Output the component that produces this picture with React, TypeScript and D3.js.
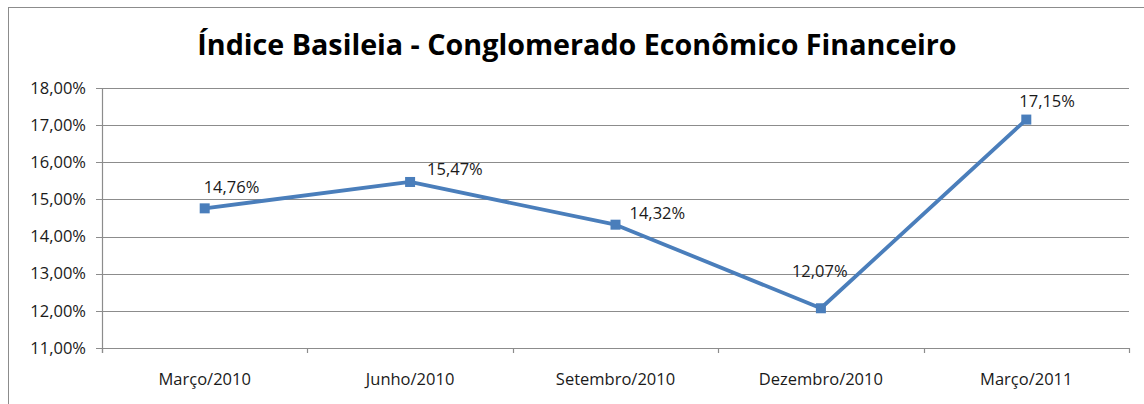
import React from "react";
import * as d3 from "d3";

const categories = ["Março/2010", "Junho/2010", "Setembro/2010", "Dezembro/2010", "Março/2011"];
const values = [14.76, 15.47, 14.32, 12.07, 17.15];
const yTicks = [11, 12, 13, 14, 15, 16, 17, 18];
const title = "Índice Basileia - Conglomerado Econômico Financeiro";

const fmt = (v: number) => v.toFixed(2).replace(".", ",") + "%";

export default function App() {
  const W = 1144, H = 404;
  const left = 102, right = 1129, top = 88, bottom = 348;
  const x = d3.scaleBand<string>().domain(categories).range([left, right]);
  const y = d3.scaleLinear().domain([11, 18]).range([bottom, top]);
  const line = d3.line<number>()
    .x((_, i) => (x(categories[i]) as number) + x.bandwidth() / 2)
    .y((d) => y(d));
  // label offsets relative to point (dx = left edge offset, dy = baseline offset)
  const labelOff = [
    [-1, -15], [17, -7], [14, -6], [-29, -31], [-7, -13],
  ];
  const font = "'Open Sans', sans-serif";
  const fs = 16.5;
  const gridColor = "#8c8c8c";
  const color = "#4a7ebb";
  const boundaries = [...categories.map((c) => x(c) as number), right];
  return (
    <svg width={W} height={H} style={{ position: "absolute", left: 0, top: 0 }}>
      <rect x={8.5} y={7.5} width={W + 10} height={H + 10} fill="white" stroke="#8c8c8c" strokeWidth={1} />
      <text x={577} y={55} textAnchor="middle" fontFamily={font} fontWeight="bold" fontSize={28.7} fill="#000">{title}</text>
      {yTicks.map((t) => (
        <g key={t}>
          <line x1={96} x2={right} y1={Math.round(y(t)) + 0.5} y2={Math.round(y(t)) + 0.5} stroke={gridColor} strokeWidth={1.2} />
          <text x={86} y={y(t)} dy="0.35em" textAnchor="end" fontFamily={font} fontSize={fs} fill="#1a1a1a">{fmt(t)}</text>
        </g>
      ))}
      <line x1={left + 0.5} x2={left + 0.5} y1={top} y2={bottom + 5} stroke={gridColor} strokeWidth={1.2} />
      {boundaries.map((b, i) => (
        <line key={i} x1={Math.round(b) + 0.5} x2={Math.round(b) + 0.5} y1={bottom} y2={bottom + 5} stroke={gridColor} strokeWidth={1.2} />
      ))}
      {categories.map((c) => (
        <text key={c} x={(x(c) as number) + x.bandwidth() / 2} y={385} textAnchor="middle" fontFamily={font} fontSize={fs} fill="#1a1a1a">{c}</text>
      ))}
      <path d={line(values) || ""} fill="none" stroke={color} strokeWidth={3.8} strokeLinejoin="round" />
      {values.map((v, i) => {
        const cx = (x(categories[i]) as number) + x.bandwidth() / 2;
        const cy = y(v);
        return (
          <g key={i}>
            <rect x={cx - 5} y={cy - 5} width={10} height={10} fill={color} />
            <text x={cx + labelOff[i][0]} y={cy + labelOff[i][1]} fontFamily={font} fontSize={fs} fill="#1a1a1a">{fmt(v)}</text>
          </g>
        );
      })}
    </svg>
  );
}
